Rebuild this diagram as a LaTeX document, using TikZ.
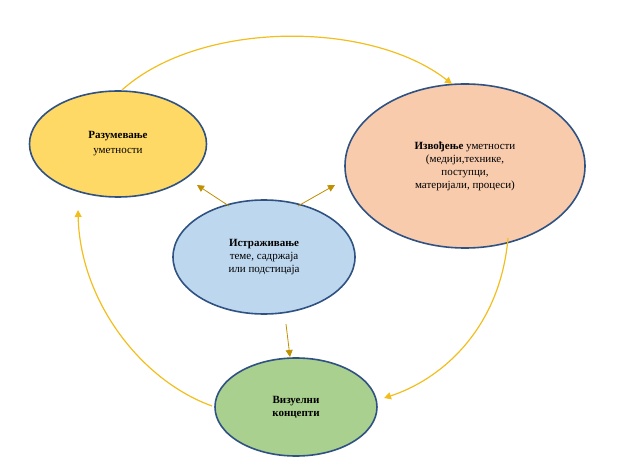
\documentclass[tikz,border=0pt]{standalone}
\usepackage{fontspec}
\setmainfont{Liberation Serif}
\usetikzlibrary{shapes.geometric,arrows.meta}
\definecolor{rim}{HTML}{2F5283}
\definecolor{gold}{HTML}{F2BE1E}
\definecolor{ochre}{HTML}{BF9000}
\tikzset{
 blob/.style={ellipse,draw=rim,line width=1.6pt,align=center,font=\fontsize{11}{13}\selectfont,inner sep=0pt},
 loop/.style={gold,line width=1.2pt,-{Triangle[length=7pt,width=7pt]}},
 push/.style={ochre,line width=0.8pt,-{Triangle[length=7pt,width=7pt]}}
}
\begin{document}
\begin{tikzpicture}[x=1pt,y=-1pt]
\useasboundingbox (0,0) rectangle (619,465);
\node[blob,fill={rgb,255:red,255;green,217;blue,102},minimum width=177,minimum height=106] (razum) at (118,144) {\textbf{Разумевање}\\[2pt]уметности};
\node[blob,fill={rgb,255:red,248;green,203;blue,173},minimum width=240,minimum height=164] (izvod) at (465,166) {\textbf{Извођење} уметности\\(медији,технике,\\поступци,\\материјали, процеси)};
\node[blob,fill={rgb,255:red,189;green,215;blue,238},minimum width=182,minimum height=114] (istr) at (264,257) {\textbf{Истраживање}\\теме, садржаја\\или подстицаја};
\node[blob,fill={rgb,255:red,169;green,208;blue,142},minimum width=162,minimum height=98] (vizu) at (296,407) {\textbf{Визуелни}\\\textbf{концепти}};
% cycle
\coordinate (a1) at (122,90);
\coordinate (a2) at (452,84);
\coordinate (b1) at (508,238);
\coordinate (b2) at (384,398);
\coordinate (c1) at (212,406);
\coordinate (c2) at (78,210);
\draw[loop] (a1) .. controls (200,20) and (370,20) .. (a2);
\draw[loop] (b1) .. controls (500,330) and (440,380) .. (b2);
\draw[loop] (c1) .. controls (140,380) and (80,300) .. (c2);
% spokes
\coordinate (s1) at (229,206);
\coordinate (s2) at (197,185);
\coordinate (s3) at (298,206);
\coordinate (s4) at (335,185);
\coordinate (s5) at (286,324);
\coordinate (s6) at (290,357);
\draw[push] (s1) -- (s2);
\draw[push] (s3) -- (s4);
\draw[push] (s5) -- (s6);
\end{tikzpicture}
\end{document}
